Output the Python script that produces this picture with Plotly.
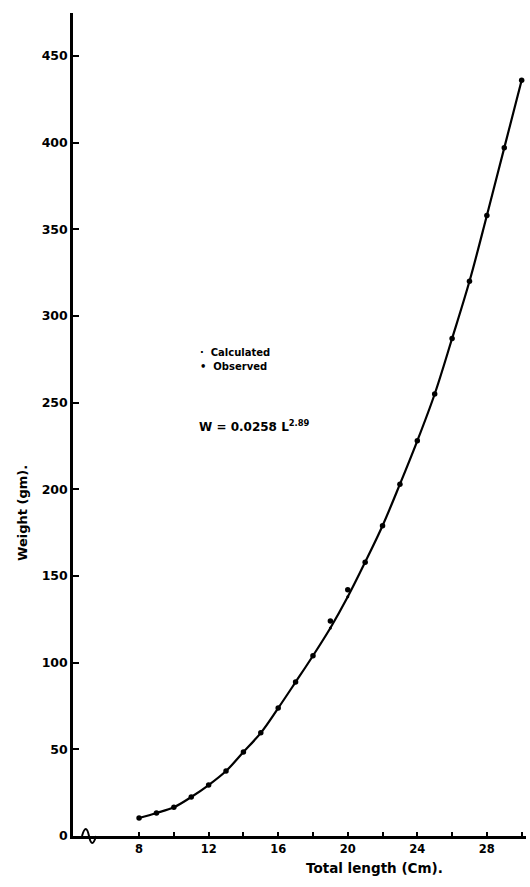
import plotly.graph_objects as go

# Data
length_cm = [8, 9, 10, 11, 12, 13, 14, 15, 16, 17, 18, 19, 20, 21, 22, 23, 24, 25, 26, 27, 28, 29, 30]
calculated = [10.4, 13.3, 16.6, 22.5, 29.4, 37.5, 48.4, 59.5, 73.8, 88.8, 104, 120, 138, 158, 179, 203, 228, 255, 287, 320, 358, 397, 436]
observed = [10.4, 13.3, 16.6, 22.5, 29.4, 37.5, 48.4, 59.5, 73.8, 88.8, 104, 124, 142, 158, 179, 203, 228, 255, 287, 320, 358, 397, 436]

x_tick_vals = [8, 12, 16, 20, 24, 28]
x_tick_text = ["8", "12", "16", "20", "24", "28"]
x_minor_tick_vals = [10, 14, 18, 22, 26, 30]
y_tick_vals = [0, 50, 100, 150, 200, 250, 300, 350, 400, 450]
y_tick_text = ["0", "50", "100", "150", "200", "250", "300", "350", "400", "450"]

FONT = "DejaVu Sans"

fig = go.Figure()
fig.add_trace(go.Scatter(
    x=length_cm, y=calculated, mode="lines+markers", name="Calculated",
    line=dict(color="black", width=2.2, shape="spline", smoothing=1),
    marker=dict(color="black", size=3),
    showlegend=False,
))
fig.add_trace(go.Scatter(
    x=length_cm, y=observed, mode="markers", name="Observed",
    marker=dict(color="black", size=5.5),
    showlegend=False,
))

fig.update_layout(
    width=530, height=887,
    margin=dict(l=73, r=4, t=13, b=51),
    paper_bgcolor="white", plot_bgcolor="white",
    font=dict(family=FONT, color="black", size=10),
    xaxis=dict(
        range=[4.2, 30.25], showgrid=False, zeroline=False,
        showline=True, linecolor="black", linewidth=2.5,
        tickvals=x_tick_vals, ticktext=x_tick_text,
        ticks="inside", ticklen=4, tickwidth=1.5, tickcolor="black",
        minor=dict(tickvals=x_minor_tick_vals, ticks="inside", ticklen=4,
                   tickwidth=1.5, tickcolor="black", showgrid=False),
        tickfont=dict(family=FONT, size=11.5, weight="bold"),
    ),
    yaxis=dict(
        range=[0, 474.8], showgrid=False, zeroline=False,
        showline=True, linecolor="black", linewidth=2.5,
        tickvals=y_tick_vals, ticktext=y_tick_text,
        ticks="inside", ticklen=6, tickwidth=2, tickcolor="black",
        tickfont=dict(family=FONT, size=12.5, weight="bold"),
    ),
    annotations=[
        dict(text="<b>Total length (Cm).</b>", xref="paper", yref="paper",
             x=(374 - 73) / 453, y=-(868 - 836) / 823, xanchor="center", yanchor="middle",
             showarrow=False, font=dict(family=FONT, size=13.5)),
        dict(text="<b>Weight (gm).</b>", xref="paper", yref="paper",
             x=-(73 - 22) / 453, y=(836 - 513) / 823, xanchor="center", yanchor="middle",
             textangle=-90, showarrow=False, font=dict(family=FONT, size=13)),
        dict(text="<b>·  Calculated</b>", xref="paper", yref="paper",
             x=(198 - 73) / 453, y=(836 - 352) / 823, xanchor="left", yanchor="middle",
             showarrow=False, font=dict(family=FONT, size=10)),
        dict(text="<b>•  Observed</b>", xref="paper", yref="paper",
             x=(198 - 73) / 453, y=(836 - 367) / 823, xanchor="left", yanchor="middle",
             showarrow=False, font=dict(family=FONT, size=10)),
        dict(text="<b>W = 0.0258 L<sup>2.89</sup></b>", xref="paper", yref="paper",
             x=(197 - 73) / 453, y=(836 - 426) / 823, xanchor="left", yanchor="middle",
             showarrow=False, font=dict(family=FONT, size=12)),
    ],
    shapes=[
        # axis break squiggle on the x axis near the origin
        dict(type="path", xref="paper", yref="paper",
             path="M {0},{1} Q {2},{3} {4},{5} Q {6},{7} {8},{9}".format(
                 (82 - 73) / 453, 0.0,
                 (86 - 73) / 453, (836 - 822) / 823,
                 (89 - 73) / 453, 0.0,
                 (92 - 73) / 453, -(836 - 822) / 823,
                 (96 - 73) / 453, 0.0),
             line=dict(color="black", width=2)),
    ],
)

fig.write_html("out.html")
